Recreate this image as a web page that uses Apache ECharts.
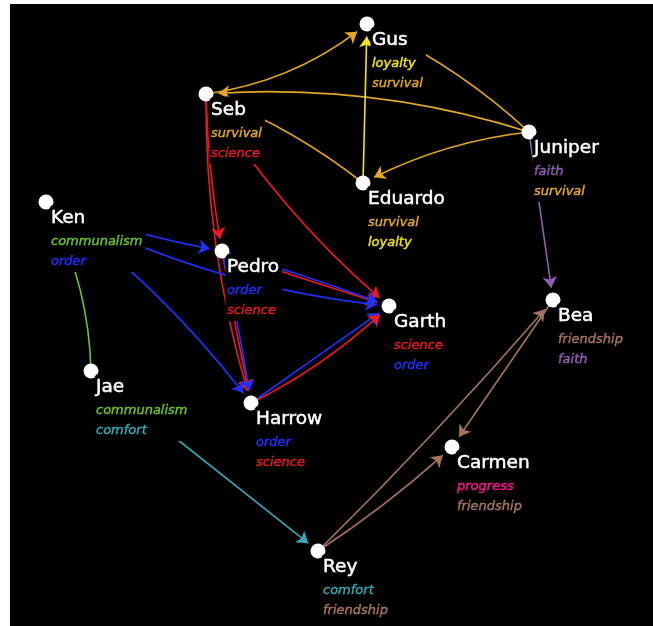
<!DOCTYPE html>
<html><head><meta charset="utf-8">
<script src="https://cdn.jsdelivr.net/npm/echarts@6/dist/echarts.min.js"></script>
<style>html,body{margin:0;padding:0;background:#fff}#c{width:653px;height:626px}</style>
</head><body><div id="c"></div>
<script>
// ---- data ----
const nodeNames = ['Gus','Seb','Juniper','Eduardo','Ken','Pedro','Garth','Bea','Jae','Harrow','Carmen','Rey'];
const nodeX = [367,206,529,363,46,222,389,553,91,251,452,318];
const nodeY = [24,94,132,183,202,251,306,300,371,403,447,551];
const nodeThemes = [
  ['loyalty','survival'],['survival','science'],['faith','survival'],['survival','loyalty'],
  ['communalism','order'],['order','science'],['science','order'],['friendship','faith'],
  ['communalism','comfort'],['order','science'],['progress','friendship'],['comfort','friendship']
];
const themes = ['survival','loyalty','science','order','communalism','comfort','faith','friendship','progress'];
const edgeSource = ['Seb','Juniper','Juniper','Eduardo','Juniper','Eduardo','Juniper','Seb','Seb','Pedro','Pedro','Seb','Pedro','Pedro','Ken','Ken','Ken','Harrow','Harrow','Jae','Jae','Rey','Rey','Bea'];
const edgeTarget = ['Gus','Seb','Eduardo','Gus','Gus','Seb','Bea','Pedro','Harrow','Harrow','Harrow','Garth','Garth','Garth','Garth','Pedro','Harrow','Garth','Garth','Ken','Rey','Bea','Carmen','Carmen'];
const edgeTheme = ['survival','survival','survival','loyalty','survival','survival','faith','science','science','science','order','science','science','order','order','order','order','order','science','communalism','comfort','friendship','friendship','friendship'];

// ---- style ----
const edgeCurve = [-0.14,-0.096,-0.095,0,-0.08,-0.075,0,-0.04,-0.077,-0.01,0.02,-0.08,-0.01,0.02,-0.1,-0.05,0.075,0,-0.077,-0.12,0,-0.02,-0.04,0];
const themeColors = {survival:'#e3a626', loyalty:'#f2e41a', science:'#ea1a20', order:'#2030ff',
  communalism:'#6cc22a', comfort:'#38a8b4', faith:'#925db3', friendship:'#a6735f', progress:'#ff148c'};
const FONT = 'DejaVu Sans';
const rich = { n: {fontFamily: FONT, fontSize: 18.5, color: '#fff', lineHeight: 27.5,
  textBorderColor: '#fff', textBorderWidth: 0.5} };
themes.forEach(t => { rich[t] = {fontFamily: FONT, fontStyle: 'italic', fontSize: 13, color: themeColors[t],
  lineHeight: 20, textBorderColor: themeColors[t], textBorderWidth: 0.4}; });

const graphNodes = nodeNames.map((n, i) => ({ name: n, value: [nodeX[i], nodeY[i]] }));
const links = edgeSource.map((s, i) => ({
  source: s, target: edgeTarget[i],
  lineStyle: { color: themeColors[edgeTheme[i]], curveness: edgeCurve[i] }
}));
const pointNodes = nodeNames.map((n, i) => ({
  name: n,
  value: [nodeX[i], nodeY[i]],
  label: { formatter: ['{n|' + n + '}'].concat(nodeThemes[i].map(t => '{' + t + '|' + t + '}')).join('\n') }
}));

const chart = echarts.init(document.getElementById('c'), null, {renderer: 'canvas'});
chart.setOption({
  backgroundColor: '#fff',
  animation: false,
  grid: {left: 10, top: 4, right: 0, bottom: 0, show: true, backgroundColor: '#000', borderWidth: 0},
  xAxis: {type: 'value', min: 10, max: 653, show: false},
  yAxis: {type: 'value', min: 4, max: 626, inverse: true, show: false},
  series: [{
    type: 'graph', coordinateSystem: 'cartesian2d', layout: 'none', z: 2,
    symbol: 'circle', symbolSize: 25, itemStyle: {color: '#000', opacity: 0},
    edgeSymbol: ['none', 'arrow'], edgeSymbolSize: 11,
    lineStyle: {width: 1.6, opacity: 1},
    label: {show: false},
    emphasis: {disabled: true},
    data: graphNodes, links: links
  }, {
    type: 'scatter', coordinateSystem: 'cartesian2d', z: 5,
    symbol: 'circle', symbolSize: 15, itemStyle: {color: '#fff', opacity: 1},
    label: {show: true, position: [11, 10], align: 'left', verticalAlign: 'top',
      backgroundColor: '#000', padding: [0, 3, 0, 1.5], borderRadius: [5, 0, 0, 0], rich: rich},
    emphasis: {disabled: true},
    data: pointNodes
  }]
});
</script></body></html>
